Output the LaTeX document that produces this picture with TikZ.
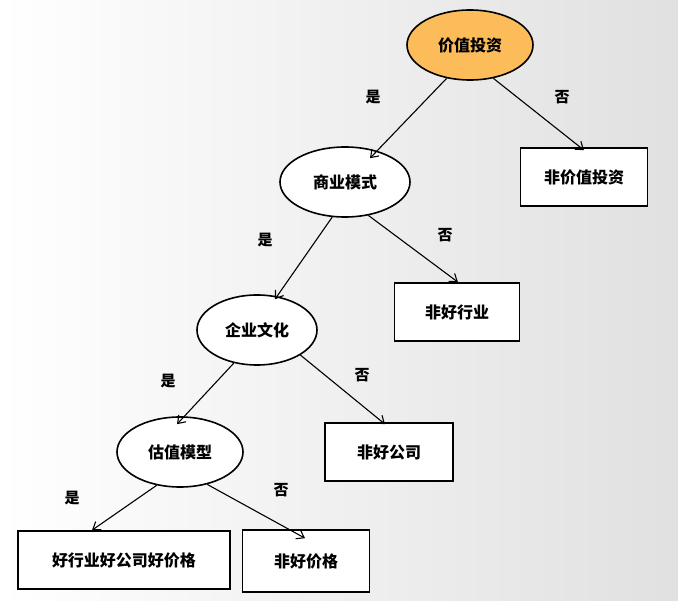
\documentclass[tikz,border=0pt]{standalone}
\usepackage{fontspec}
\setmainfont{Noto Sans CJK SC}
\usetikzlibrary{shapes.geometric,arrows.meta}
\begin{document}
\begin{tikzpicture}[x=1pt,y=-1pt,
  ell/.style={ellipse,draw=black,line width=1.6pt,fill=white,minimum width=#1,minimum height=70pt,font=\fontsize{16}{18}\selectfont\bfseries},
  box/.style={rectangle,draw=black,line width=1.6pt,fill=white,minimum height=58pt,font=\fontsize{16}{18}\selectfont\bfseries},
  arr/.style={-{Straight Barb[length=7pt,width=10pt]},line width=1.1pt},
  lab/.style={font=\fontsize{15}{17}\selectfont\bfseries}]
\shade[left color=white,right color=black!12] (0,0) rectangle (678,601);
\useasboundingbox (0,0) rectangle (678,601);
\node[ell=126pt,fill={rgb,255:red,253;green,188;blue,90}] (a) at (470,45) {价值投资};
\node[box,minimum width=127pt] (na) at (584,177) {非价值投资};
\node[ell=130pt] (b) at (345,182) {商业模式};
\node[box,minimum width=125pt] (nb) at (457,312) {非好行业};
\node[ell=120pt] (c) at (257,330) {企业文化};
\node[box,minimum width=128pt] (nc) at (389,452) {非好公司};
\node[ell=126pt] (d) at (180,452) {估值模型};
\node[box,minimum width=212pt] (e) at (124,560) {好行业好公司好价格};
\node[box,minimum width=127pt,minimum height=62pt] (nd) at (306,561) {非好价格};
\draw[arr] (a.235) -- ([xshift=25pt,yshift=-12pt]b.north);
\draw[arr] (a.305) -- ([yshift=-3pt]na.north);
\draw[arr] (b.250) -- ([xshift=18pt,yshift=-5pt]c.north);
\draw[arr] (b.305) -- ([xshift=1pt]nb.north);
\draw[arr] (c.235) -- ([xshift=-3pt,yshift=-8pt]d.north);
\draw[arr] (c.330) -- ([xshift=-4pt,yshift=-2pt]nc.north);
\draw[arr] (d.235) -- ([xshift=-32pt]e.north);
\draw[arr] (d.310) -- ([xshift=-1pt,yshift=-9pt]nd.north);
\node[lab] (l1) at (373,97) {是};
\node[lab] (l2) at (562,97) {否};
\node[lab] (l3) at (265,240) {是};
\node[lab] (l4) at (445,235) {否};
\node[lab] (l5) at (168,381) {是};
\node[lab] (l6) at (362,375) {否};
\node[lab] (l7) at (72,498) {是};
\node[lab] (l8) at (281,490) {否};
\end{tikzpicture}
\end{document}
